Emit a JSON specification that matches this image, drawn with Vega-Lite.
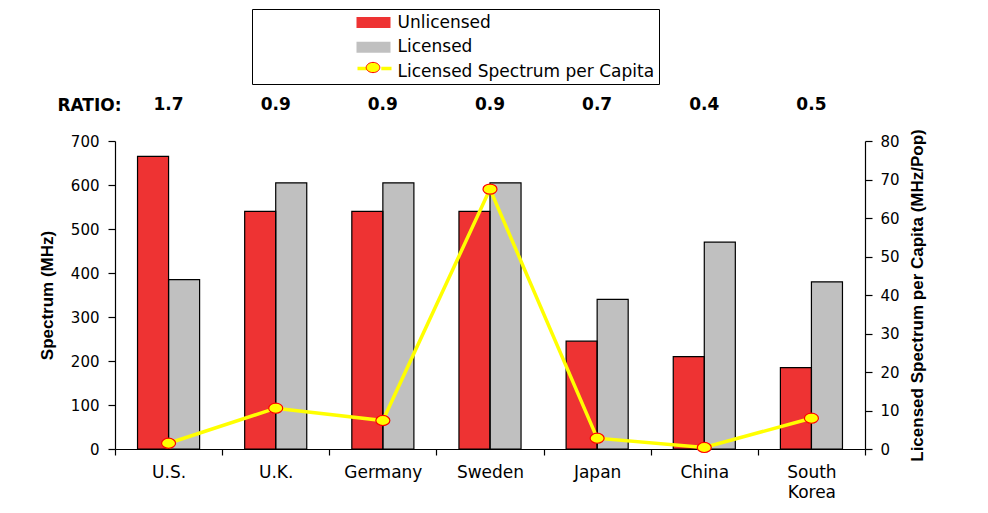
{
  "$schema": "https://vega.github.io/schema/vega-lite/v6.json",
  "background": "white",
  "padding": {"left": 38, "top": 8, "right": 5, "bottom": 5},
  "config": {
    "view": {"stroke": null},
    "font": "DejaVu Sans",
    "axis": {"labelColor": "black", "domainColor": "black", "tickColor": "black", "titleColor": "black", "grid": false, "domainWidth": 1.2, "tickWidth": 1.2},
    "legend": {"labelFont": "DejaVu Sans", "labelFontSize": 17, "labelColor": "black", "labelLimit": 500, "symbolSize": 289, "symbolOffset": 112, "labelOffset": 14.5, "direction": "vertical", "orient": "none", "padding": 0, "rowPadding": 1.5}
  },
  "datasets": {
    "spectrum": [
      {"country": "U.S.", "Unlicensed": 665, "Licensed": 385, "perCapita": 1.5, "ratio": 1.7},
      {"country": "U.K.", "Unlicensed": 540, "Licensed": 605, "perCapita": 10.6, "ratio": 0.9},
      {"country": "Germany", "Unlicensed": 540, "Licensed": 605, "perCapita": 7.4, "ratio": 0.9},
      {"country": "Sweden", "Unlicensed": 540, "Licensed": 605, "perCapita": 67.5, "ratio": 0.9},
      {"country": "Japan", "Unlicensed": 245, "Licensed": 340, "perCapita": 2.8, "ratio": 0.7},
      {"country": "China", "Unlicensed": 210, "Licensed": 470, "perCapita": 0.4, "ratio": 0.4},
      {"country": "South Korea", "Unlicensed": 185, "Licensed": 380, "perCapita": 8.0, "ratio": 0.5}
    ]
  },
  "spacing": 8,
  "vconcat": [
    {
      "width": 750,
      "height": 30,
      "data": {"name": "spectrum"},
      "mark": {"type": "text", "font": "DejaVu Sans", "fontWeight": "bold", "fontSize": 17, "color": "black"},
      "encoding": {
        "x": {"field": "country", "type": "nominal", "sort": null, "scale": {"paddingInner": 0, "paddingOuter": 0}, "axis": null},
        "y": {"datum": "RATIO:", "type": "nominal", "axis": {"title": null, "domain": false, "ticks": false, "labelFont": "DejaVu Sans", "labelFontWeight": "bold", "labelFontSize": 17, "labelPadding": -6, "labelColor": "black"}},
        "text": {"field": "ratio", "type": "quantitative", "format": ".1f"}
      }
    },
    {
      "width": 750,
      "height": 308,
      "data": {"name": "spectrum"},
      "layer": [
        {
          "transform": [{"fold": ["Unlicensed", "Licensed"], "as": ["series", "mhz"]}],
          "layer": [
            {
              "mark": {"type": "bar", "opacity": 1},
              "encoding": {
                "x": {
                  "field": "country", "type": "nominal", "sort": null,
                  "scale": {"paddingInner": 0, "paddingOuter": 0},
                  "axis": {"title": null, "tickBand": "extent", "tickSize": 6, "labelAngle": 0, "labelFont": "DejaVu Sans", "labelFontSize": 17, "labelPadding": 9, "labelLineHeight": 20, "labelExpr": "datum.label == 'South Korea' ? ['South', 'Korea'] : datum.label"}
                },
                "xOffset": {"field": "series", "type": "nominal", "sort": ["Unlicensed", "Licensed"], "scale": {"paddingInner": 0, "paddingOuter": 0.726}},
                "y": {
                  "field": "mhz", "type": "quantitative",
                  "scale": {"domain": [0, 700], "nice": false},
                  "axis": {"title": "Spectrum (MHz)", "titleFont": "Liberation Sans", "titleFontWeight": "bold", "titleFontSize": 17, "titlePadding": 14, "values": [0, 100, 200, 300, 400, 500, 600, 700], "tickSize": 7, "labelFont": "DejaVu Sans", "labelFontSize": 15, "labelPadding": 9}
                },
                "color": {
                  "field": "series", "type": "nominal",
                  "scale": {"domain": ["Unlicensed", "Licensed", "Licensed Spectrum per Capita"], "range": ["#EE3333", "#C0C0C0", "transparent"]},
                  "legend": {
                    "title": null,
                    "legendX": 137, "legendY": -81, "padding": 4, "symbolOffset": 108, "rowPadding": 6.75,
                    "strokeColor": "black",
                    "symbolType": "M-2,-0.65H2V0.65H-2Z",
                    "symbolOpacity": 1
                  }
                }
              }
            },
            {
              "mark": {"type": "bar", "fill": "transparent", "stroke": "black", "strokeWidth": 1.2},
              "encoding": {
                "x": {"field": "country", "type": "nominal", "sort": null},
                "xOffset": {"field": "series", "type": "nominal", "sort": ["Unlicensed", "Licensed"]},
                "y": {"field": "mhz", "type": "quantitative"}
              }
            }
          ]
        },
        {
          "layer": [
            {
              "mark": {"type": "line", "strokeWidth": 3.5, "color": "#FFFF00"},
              "encoding": {
                "x": {"field": "country", "type": "nominal", "sort": null},
                "y": {
                  "field": "perCapita", "type": "quantitative",
                  "scale": {"domain": [0, 80], "nice": false},
                  "axis": {"orient": "right", "title": "Licensed Spectrum per Capita (MHz/Pop)", "titleAngle": 270, "titleBaseline": "top", "titleFont": "Liberation Sans", "titleFontWeight": "bold", "titleFontSize": 17, "titlePadding": 10, "values": [0, 10, 20, 30, 40, 50, 60, 70, 80], "tickSize": 7, "labelFont": "DejaVu Sans", "labelFontSize": 15, "labelPadding": 8}
                },
                "stroke": {
                  "datum": "Licensed Spectrum per Capita line", "type": "nominal",
                  "scale": {"range": ["#FFFF00"]},
                  "legend": {
                    "title": null, "legendX": 137, "legendY": -32,
                    "labelExpr": "''",
                    "symbolType": "M-2,0H-0.8M0.8,0H2",
                    "symbolStrokeWidth": 3.5, "symbolOpacity": 1
                  }
                }
              }
            },
            {
              "mark": {"type": "point", "filled": true, "stroke": "#FF0000", "strokeWidth": 1.2, "opacity": 1, "size": 196, "shape": "M-1,0A1,0.72 0 1,0 1,0A1,0.72 0 1,0 -1,0Z"},
              "encoding": {
                "x": {"field": "country", "type": "nominal", "sort": null},
                "y": {
                  "field": "perCapita", "type": "quantitative",
                  "scale": {"domain": [0, 80], "nice": false},
                  "axis": {"orient": "right", "title": "Licensed Spectrum per Capita (MHz/Pop)", "titleAngle": 270, "titleBaseline": "top", "titleFont": "Liberation Sans", "titleFontWeight": "bold", "titleFontSize": 17, "titlePadding": 10, "values": [0, 10, 20, 30, 40, 50, 60, 70, 80], "tickSize": 7, "labelFont": "DejaVu Sans", "labelFontSize": 15, "labelPadding": 8}
                },
                "fill": {
                  "datum": "Licensed Spectrum per Capita", "type": "nominal",
                  "scale": {"range": ["#FFFF00"]},
                  "legend": {
                    "title": null, "legendX": 137, "legendY": -31.5,
                    "labelExpr": "''",
                    "symbolType": "M-0.8,0A0.8,0.6 0 1,0 0.8,0A0.8,0.6 0 1,0 -0.8,0Z",
                    "symbolStrokeColor": "#FF0000", "symbolStrokeWidth": 1, "symbolOpacity": 1
                  }
                }
              }
            }
          ]
        }
      ],
      "resolve": {"scale": {"y": "independent"}}
    }
  ]
}
